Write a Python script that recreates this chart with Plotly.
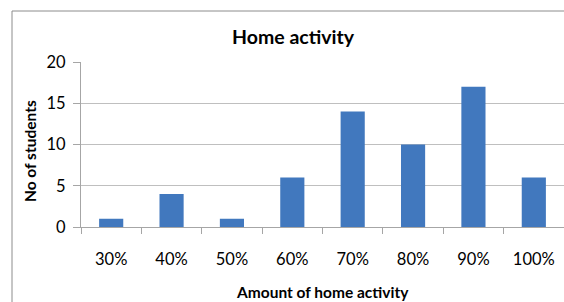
import plotly.graph_objects as go

categories = ["30%", "40%", "50%", "60%", "70%", "80%", "90%", "100%"]
students = [1, 4, 1, 6, 14, 10, 17, 6]
y_ticks = [0, 5, 10, 15, 20]

W, H = 564, 302
L, R, T, B = 81, 0, 62, 75
pw = W - L - R
ph = H - T - B

def px(x):
    return (x - L) / pw

def py(y):
    return (H - B - y) / ph

font_family = "Lato, Open Sans, sans-serif"

fig = go.Figure(go.Bar(
    x=categories, y=students,
    marker=dict(color="#4178be", line=dict(width=0)),
))

fig.update_layout(
    width=W, height=H,
    margin=dict(l=L, r=R, t=T, b=B),
    plot_bgcolor="white", paper_bgcolor="white",
    bargap=0.6,
    showlegend=False,
    font=dict(family=font_family, color="#000000"),
    xaxis=dict(
        type="category",
        showgrid=False,
        showline=True, linecolor="#a6a6a6", linewidth=1,
        ticks="outside", tickson="boundaries", ticklen=6, tickcolor="#a6a6a6",
        tickfont=dict(size=16.5, family=font_family),
        ticklabelstandoff=17,
    ),
    yaxis=dict(
        range=[0, 20], tickvals=y_ticks,
        showgrid=True, gridcolor="#bfbfbf", gridwidth=1,
        showline=True, linecolor="#a6a6a6", linewidth=1,
        ticks="outside", ticklen=7, tickcolor="#a6a6a6",
        tickfont=dict(size=16.5, family=font_family),
        ticklabelstandoff=4,
        zeroline=False,
    ),
    shapes=[dict(
        type="rect", xref="paper", yref="paper",
        x0=px(12), x1=px(620), y0=py(340), y1=py(11),
        line=dict(color="#8c8c8c", width=1), fillcolor="rgba(0,0,0,0)", layer="below",
    )],
    annotations=[
        dict(text="<b>Home activity</b>", xref="paper", yref="paper",
             x=px(293), y=py(37), showarrow=False, font=dict(size=19.5, family=font_family),
             xanchor="center", yanchor="middle"),
        dict(text="<b>No of students</b>", xref="paper", yref="paper",
             x=px(30), y=py(151), showarrow=False, textangle=-90,
             font=dict(size=15.5, family=font_family), xanchor="center", yanchor="middle"),
        dict(text="<b>Amount of home activity</b>", xref="paper", yref="paper",
             x=px(322), y=py(292), showarrow=False,
             font=dict(size=15.5, family=font_family), xanchor="center", yanchor="middle"),
    ],
)

fig.write_html("out.html", config={"displayModeBar": False},
               post_script="document.body.style.margin='0';document.body.style.overflow='hidden';")
